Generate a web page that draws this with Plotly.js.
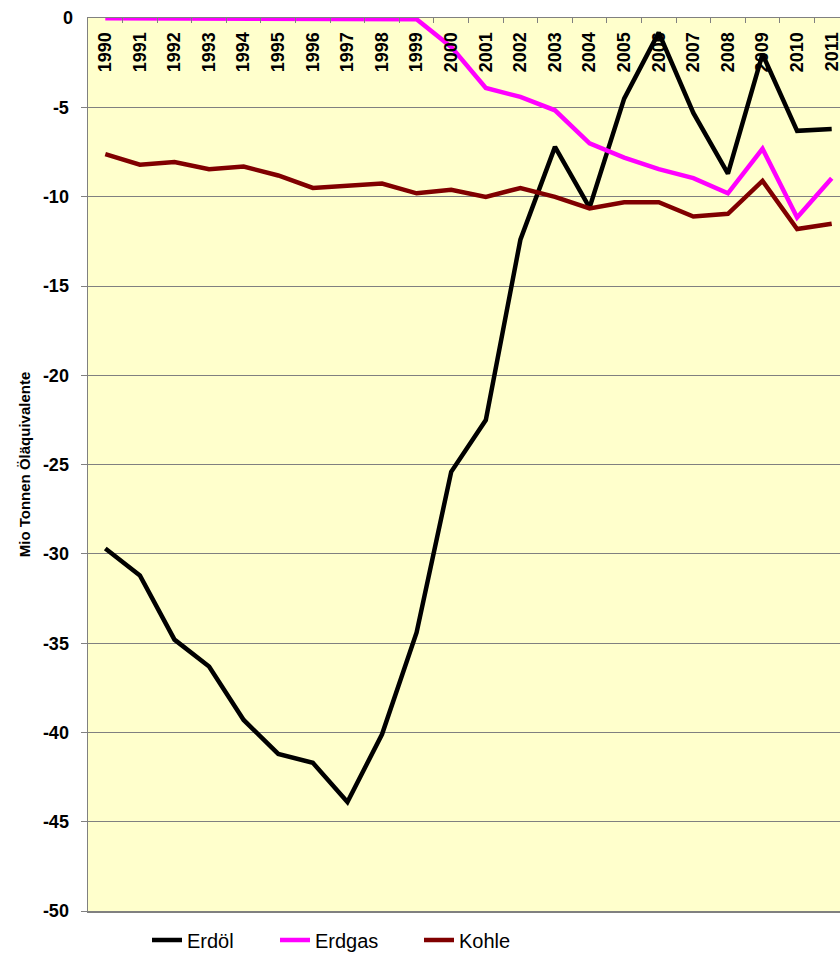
<!DOCTYPE html>
<html>
<head>
<meta charset="utf-8">
<script src="https://cdn.plot.ly/plotly-3.0.1.min.js"></script>
<style>
html,body{margin:0;padding:0;overflow:hidden;background:#fff;width:840px;height:953px;}
#chart{width:870px;height:953px;}
</style>
</head>
<body>
<div id="chart"></div>
<script>
const years = ["1990","1991","1992","1993","1994","1995","1996","1997","1998","1999","2000","2001","2002","2003","2004","2005","2006","2007","2008","2009","2010","2011"];
const erdoel = [-29.7,-31.2,-34.8,-36.3,-39.3,-41.2,-41.7,-43.9,-40.1,-34.4,-25.4,-22.5,-12.4,-7.2,-10.6,-4.5,-0.8,-5.3,-8.7,-2.0,-6.3,-6.2];
const erdgas = [0,0,0,0,0,0,-0.05,-0.05,-0.05,-0.05,-1.6,-3.9,-4.4,-5.15,-7.0,-7.8,-8.45,-8.95,-9.8,-7.3,-11.15,-8.95];
const kohle = [-7.6,-8.2,-8.05,-8.45,-8.3,-8.8,-9.5,-9.35,-9.25,-9.8,-9.6,-10.0,-9.5,-10.0,-10.65,-10.3,-10.3,-11.1,-10.95,-9.1,-11.8,-11.5];
const seriesNames = ["Erdöl","Erdgas","Kohle"];
const yTicks = [0,-5,-10,-15,-20,-25,-30,-35,-40,-45,-50];

const W = 870, H = 953, L = 88, R = 21, T = 18, B = 42;
const pw = W - L - R, ph = H - T - B;
const px = v => (v - L) / pw;
const py = v => (H - B - v) / ph;
const tickFont = {family: 'Liberation Sans, Arial, sans-serif', size: 18, color: '#000', weight: 'bold'};

const mk = (y, name, color, leg) => ({
  x: years, y: y, name: name, type: 'scatter', mode: 'lines',
  line: {color: color, width: 4.5}, legend: leg
});

const data = [
  mk(erdoel, seriesNames[0], '#000000', 'legend'),
  mk(erdgas, seriesNames[1], '#FF00FF', 'legend2'),
  mk(kohle, seriesNames[2], '#800000', 'legend3')
];

const legBase = {orientation: 'h', yanchor: 'middle', xanchor: 'left', bgcolor: 'rgba(0,0,0,0)',
  font: {family: 'Liberation Sans, Arial, sans-serif', size: 20, color: '#000'}, y: py(940)};

const layout = {
  width: W, height: H,
  margin: {l: L, r: R, t: T, b: B, autoexpand: false},
  paper_bgcolor: '#ffffff',
  plot_bgcolor: '#FFFFCC',
  showlegend: true,
  legend: Object.assign({}, legBase, {x: px(147)}),
  legend2: Object.assign({}, legBase, {x: px(275)}),
  legend3: Object.assign({}, legBase, {x: px(419)}),
  annotations: [{
    xref: 'paper', yref: 'y', x: 0, y: yTicks[0], text: String(yTicks[0]),
    xanchor: 'right', yanchor: 'middle', xshift: -13, showarrow: false, font: tickFont
  }],
  xaxis: {
    type: 'category', side: 'top', categoryorder: 'array', categoryarray: years,
    range: [-0.5, years.length - 0.5],
    showline: true, linecolor: '#808080', linewidth: 1.5, mirror: true,
    ticks: 'inside', ticklen: 5, tickcolor: '#808080', tickson: 'boundaries',
    ticklabelposition: 'inside', tickangle: -90,
    tickfont: tickFont,
    showgrid: false, zeroline: false, automargin: false, fixedrange: true
  },
  yaxis: {
    range: [-50, 0.02], tickvals: yTicks, ticktext: yTicks.map(String),
    showline: true, linecolor: '#808080', linewidth: 1.5, mirror: true,
    ticks: 'outside', ticklen: 6, tickcolor: '#808080', ticklabelstandoff: 8,
    tickfont: tickFont,
    showgrid: true, gridcolor: '#808080', gridwidth: 1, zeroline: false,
    automargin: false, fixedrange: true,
    title: {text: 'Mio Tonnen Öläquivalente', standoff: 8,
      font: {family: 'Liberation Sans, Arial, sans-serif', size: 15, color: '#000', weight: 'bold'}}
  }
};

Plotly.newPlot('chart', data, layout, {staticPlot: true, displayModeBar: false});
</script>
</body>
</html>
